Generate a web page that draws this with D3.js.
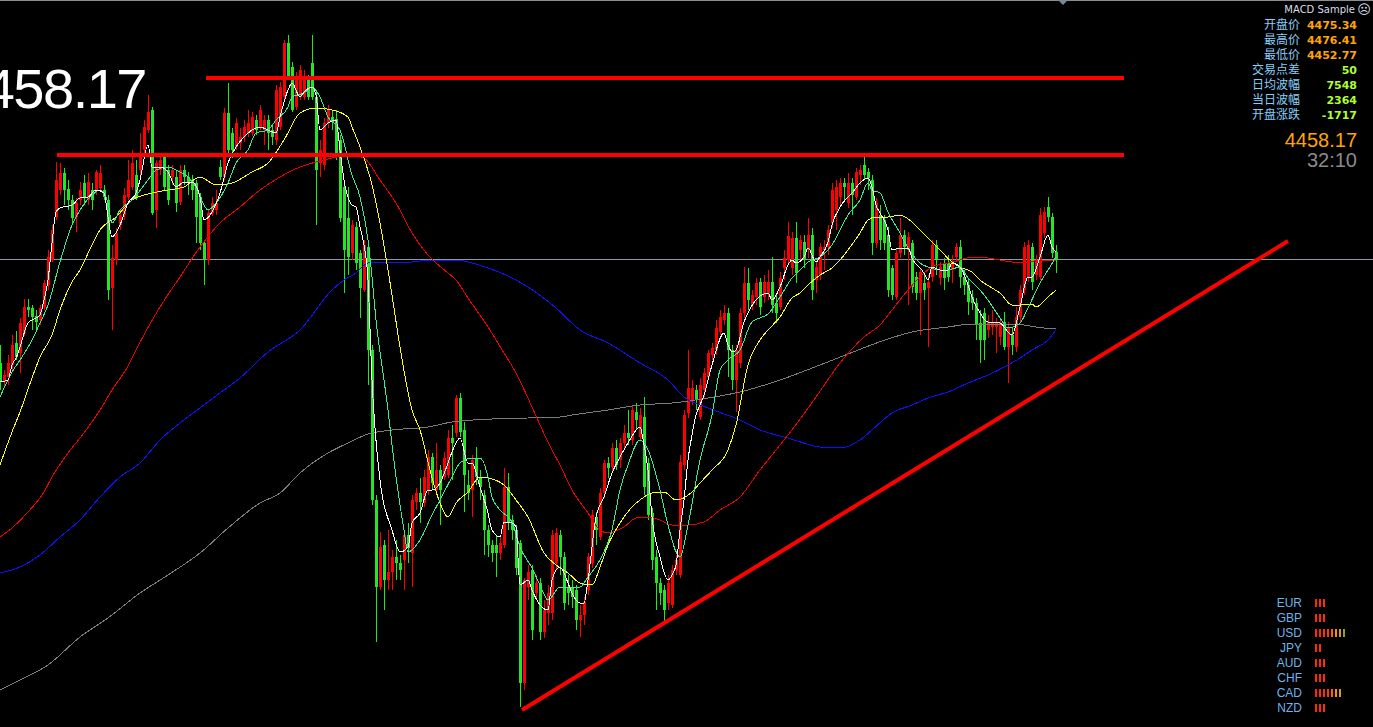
<!DOCTYPE html>
<html>
<head>
<meta charset="utf-8">
<script src="https://cdn.jsdelivr.net/npm/d3@7"></script>
<style>
  html, body { margin: 0; padding: 0; background: #000; overflow: hidden; }
  svg { display: block; }
</style>
</head>
<body>
<svg id="chart" width="1373" height="727"></svg>
<script>
// candles, oldest first
var opens = [
  4437.4,4433.6,4434.6,4437.0,4441.4,4439.4,4443.4,4448.6,4448.4,4446.8,
  4446.0,4448.6,4453.0,4458.0,4466.6,4472.0,4475.4,4472.2,4470.0,4466.6,
  4470.0,4473.4,4470.0,4472.0,4472.0,4472.4,4472.0,4470.0,4452.4,4458.0,
  4465.0,4467.0,4470.6,4472.6,4475.0,4476.0,4480.0,4484.0,4488.0,4468.0,
  4476.0,4478.6,4476.0,4474.6,4474.6,4469.6,4476.0,4474.6,4474.0,4473.4,
  4470.6,4461.4,4458.0,4467.4,4468.0,4476.6,4474.6,4487.4,4483.4,4480.6,
  4481.4,4482.6,4483.4,4483.4,4486.0,4484.6,4484.0,4486.0,4484.0,4482.0,
  4484.6,4490.6,4501.4,4496.6,4488.6,4490.6,4490.6,4494.0,4497.4,4490.6,
  4477.4,4477.0,4485.4,4486.6,4486.2,4482.0,4472.6,4466.4,4459.4,4464.6,
  4459.4,4452.0,4460.6,4440.0,4410.0,4392.6,4401.0,4394.0,4395.6,4398.6,
  4397.4,4398.0,4403.0,4399.4,4409.6,4411.4,4409.4,4412.0,4418.6,4412.0,
  4416.0,4414.6,4415.0,4422.4,4423.4,4430.4,4424.0,4413.0,4412.0,4418.4,
  4414.6,4411.0,4404.0,4401.0,4401.0,4399.4,4401.0,4412.6,4406.0,4404.0,
  4401.4,4373.4,4392.6,4396.0,4391.4,4393.4,4383.6,4387.4,4387.4,4397.4,
  4403.0,4398.6,4392.4,4392.6,4392.0,4386.0,4387.0,4392.0,4397.4,4406.6,
  4402.6,4411.4,4417.4,4416.6,4420.4,4418.0,4421.4,4423.4,4422.0,4427.6,
  4422.6,4426.6,4417.4,4407.4,4398.6,4393.4,4392.0,4389.4,4389.0,4396.0,
  4395.0,4417.0,4427.4,4430.0,4432.0,4426.6,4432.0,4434.6,4439.0,4440.0,
  4443.6,4446.0,4447.4,4440.0,4434.0,4437.4,4447.4,4453.4,4449.0,4450.6,
  4453.6,4450.6,4451.4,4453.6,4449.4,4448.6,4456.4,4458.0,4456.4,4462.4,
  4460.0,4461.6,4460.0,4463.0,4454.0,4455.0,4460.0,4460.6,4465.4,4468.0,
  4470.6,4473.4,4469.4,4473.4,4470.6,4475.0,4477.0,4475.6,4474.0,4461.4,
  4467.0,4466.0,4463.0,4456.4,4450.6,4459.4,4463.0,4460.0,4461.4,4454.6,
  4451.4,4453.4,4452.4,4454.6,4461.0,4454.4,4457.4,4457.4,4456.0,4458.6,
  4460.6,4454.6,4453.0,4450.6,4449.4,4445.4,4447.4,4444.0,4444.6,4444.6,
  4442.6,4445.6,4440.6,4443.0,4440.6,4446.6,4452.0,4454.6,4460.6,4455.0,
  4454.6,4463.4,4468.6,4466.6,4459.6
];
var highs = [
  4441.0,4436.0,4439.0,4443.0,4443.8,4446.4,4450.2,4450.2,4449.0,4448.0,
  4449.0,4454.0,4460.0,4465.0,4477.6,4477.4,4476.4,4474.0,4471.0,4470.4,
  4473.6,4475.0,4475.4,4473.4,4476.0,4477.0,4473.0,4471.0,4461.0,4464.4,
  4468.0,4472.4,4478.0,4480.0,4478.0,4483.4,4486.0,4491.0,4488.6,4478.0,
  4479.0,4479.0,4477.0,4477.0,4476.0,4477.0,4477.0,4475.6,4475.0,4474.0,
  4471.4,4462.0,4468.0,4470.6,4472.0,4478.0,4488.4,4493.4,4484.4,4486.4,
  4484.4,4486.0,4488.0,4487.6,4487.0,4489.0,4487.0,4487.0,4485.0,4493.0,
  4493.6,4502.0,4503.0,4497.6,4495.6,4497.0,4496.0,4495.0,4503.0,4492.0,
  4482.0,4486.4,4489.0,4488.0,4488.0,4483.0,4473.0,4472.6,4466.0,4465.6,
  4460.0,4462.0,4461.0,4441.0,4411.0,4403.6,4402.0,4404.0,4400.0,4402.0,
  4399.0,4404.0,4405.4,4411.0,4412.4,4414.4,4416.0,4420.0,4419.4,4421.4,
  4417.0,4419.6,4424.0,4425.0,4431.0,4431.4,4425.6,4416.0,4419.0,4420.6,
  4416.0,4412.0,4405.0,4402.0,4403.0,4403.0,4416.4,4415.4,4407.0,4405.0,
  4402.0,4394.4,4397.0,4397.0,4395.0,4394.4,4390.0,4393.0,4404.0,4404.4,
  4404.0,4399.6,4395.0,4394.0,4393.0,4389.0,4390.6,4399.4,4408.0,4407.6,
  4412.4,4418.0,4418.6,4421.4,4422.0,4422.4,4425.0,4428.0,4429.0,4429.4,
  4428.4,4430.6,4418.4,4408.4,4400.0,4394.4,4393.0,4395.0,4397.0,4399.0,
  4419.0,4428.0,4440.0,4434.0,4433.0,4434.4,4436.4,4440.0,4441.4,4446.0,
  4448.0,4449.0,4448.4,4441.0,4441.0,4448.4,4456.6,4456.4,4452.0,4454.4,
  4454.4,4455.0,4456.0,4458.6,4451.4,4455.6,4460.0,4465.6,4463.6,4465.6,
  4463.0,4463.0,4466.4,4464.4,4457.6,4461.4,4462.0,4465.0,4473.4,4474.0,
  4474.4,4474.4,4475.4,4474.4,4476.4,4477.0,4478.6,4476.4,4475.0,4470.4,
  4469.0,4467.0,4464.6,4457.0,4460.4,4466.4,4464.0,4463.6,4462.0,4455.6,
  4456.4,4455.0,4455.0,4462.0,4462.0,4457.6,4458.4,4459.0,4459.0,4461.4,
  4462.0,4456.0,4454.4,4452.0,4450.4,4448.0,4448.4,4447.0,4448.0,4446.4,
  4446.4,4447.6,4445.6,4444.6,4448.6,4453.0,4461.6,4462.0,4461.4,4459.0,
  4468.4,4468.6,4470.6,4467.4,4461.0
];
var lows = [
  4432.0,4432.6,4433.0,4436.0,4438.0,4435.4,4442.8,4446.6,4444.0,4443.6,
  4445.0,4448.0,4452.0,4457.6,4466.0,4471.0,4469.0,4468.0,4465.0,4463.6,
  4469.0,4469.0,4469.0,4468.0,4471.0,4471.6,4470.0,4450.0,4444.0,4457.0,
  4464.0,4466.0,4470.0,4472.0,4470.0,4475.0,4479.0,4483.4,4467.0,4464.4,
  4475.0,4472.0,4469.0,4473.0,4467.6,4469.0,4473.0,4471.0,4470.0,4461.4,
  4460.0,4453.0,4457.0,4466.8,4467.0,4474.0,4474.0,4479.0,4478.4,4480.0,
  4480.0,4481.6,4482.6,4482.8,4483.0,4484.0,4481.0,4480.0,4481.0,4481.0,
  4484.0,4490.0,4494.0,4487.6,4488.0,4490.0,4490.0,4490.0,4490.0,4465.0,
  4474.6,4476.0,4484.4,4484.0,4478.0,4465.6,4451.4,4455.0,4458.0,4456.0,
  4446.4,4451.6,4433.0,4409.0,4381.6,4392.0,4388.0,4392.0,4392.0,4394.0,
  4394.0,4392.0,4397.4,4392.6,4408.0,4405.4,4408.6,4411.0,4412.0,4411.0,
  4405.0,4414.0,4414.4,4414.0,4422.6,4422.6,4407.6,4410.0,4406.6,4413.0,
  4410.0,4399.0,4398.6,4397.6,4394.6,4398.0,4400.4,4404.0,4402.0,4395.0,
  4368.6,4372.0,4390.0,4382.0,4390.0,4382.0,4382.4,4385.0,4386.0,4396.0,
  4395.0,4388.0,4389.0,4388.4,4384.0,4382.6,4385.0,4391.0,4396.4,4401.0,
  4402.0,4410.4,4414.4,4415.6,4416.0,4416.4,4420.0,4421.0,4421.0,4424.0,
  4422.0,4411.0,4406.0,4396.0,4388.0,4389.0,4385.6,4388.0,4388.4,4395.0,
  4394.4,4416.0,4426.4,4429.0,4428.0,4426.0,4430.6,4434.0,4438.0,4439.0,
  4443.0,4445.0,4434.6,4432.0,4427.6,4436.4,4446.4,4448.0,4448.0,4449.0,
  4447.0,4449.4,4450.0,4447.4,4445.4,4448.0,4454.0,4457.0,4455.0,4453.4,
  4457.6,4456.4,4458.4,4450.0,4451.4,4454.0,4456.0,4459.0,4464.4,4464.0,
  4469.0,4470.0,4468.4,4467.0,4470.0,4473.0,4474.0,4472.0,4459.0,4460.4,
  4460.0,4460.0,4450.6,4450.0,4450.0,4458.4,4459.0,4449.0,4451.4,4450.0,
  4443.0,4450.0,4440.6,4453.6,4455.0,4453.0,4452.0,4453.6,4453.4,4457.6,
  4452.4,4451.0,4447.0,4448.0,4442.0,4437.4,4438.0,4442.4,4443.0,4439.4,
  4441.0,4440.0,4433.4,4439.0,4439.6,4445.6,4451.0,4453.6,4452.0,4454.0,
  4454.0,4462.4,4465.6,4458.4,4455.4
];
var closes = [
  4433.6,4435.0,4437.4,4441.0,4438.6,4445.4,4448.6,4448.0,4446.6,4445.6,
  4448.4,4453.4,4458.6,4464.0,4474.0,4475.4,4472.0,4470.0,4466.4,4469.4,
  4472.0,4470.6,4473.6,4470.0,4475.6,4475.4,4470.6,4452.0,4458.4,4463.4,
  4467.0,4471.0,4474.0,4477.4,4470.6,4478.6,4484.6,4487.6,4467.4,4477.4,
  4478.0,4472.6,4470.0,4476.0,4469.4,4476.0,4474.6,4473.4,4472.0,4466.6,
  4461.4,4458.0,4467.4,4469.4,4469.4,4474.6,4487.4,4480.0,4480.0,4485.4,
  4482.6,4484.6,4485.4,4486.6,4484.0,4488.0,4486.0,4483.4,4482.6,4492.0,
  4492.6,4501.4,4494.6,4488.0,4494.6,4496.0,4494.6,4490.6,4490.6,4476.0,
  4480.0,4485.4,4488.0,4485.6,4479.4,4466.4,4460.0,4458.6,4465.0,4457.4,
  4452.4,4461.0,4440.0,4410.0,4392.6,4400.6,4394.0,4395.6,4398.6,4397.4,
  4396.0,4403.0,4400.4,4410.0,4411.4,4409.6,4414.6,4418.6,4413.4,4416.0,
  4412.0,4418.4,4422.4,4421.4,4430.4,4423.6,4415.0,4411.4,4418.0,4414.6,
  4412.6,4404.0,4401.0,4399.4,4399.4,4401.4,4412.6,4405.4,4404.0,4396.4,
  4373.4,4394.0,4395.6,4384.0,4393.4,4383.6,4388.0,4391.4,4403.0,4403.4,
  4398.6,4389.4,4391.4,4390.6,4386.0,4387.0,4389.6,4398.6,4407.0,4404.0,
  4411.4,4417.4,4416.4,4420.4,4417.0,4421.4,4423.4,4422.4,4428.0,4426.0,
  4427.0,4412.6,4407.0,4398.0,4393.4,4391.4,4388.0,4393.4,4396.0,4398.0,
  4417.6,4427.0,4432.4,4432.4,4430.0,4433.0,4435.4,4439.4,4440.4,4444.4,
  4446.6,4447.4,4440.0,4434.0,4440.0,4447.4,4453.4,4450.0,4451.0,4453.4,
  4448.6,4453.6,4453.6,4449.0,4447.4,4454.4,4458.4,4462.8,4462.4,4455.4,
  4462.0,4458.0,4463.0,4452.0,4456.6,4460.6,4460.6,4464.0,4472.0,4472.6,
  4473.4,4472.6,4473.4,4471.0,4475.6,4476.0,4475.0,4474.4,4461.4,4469.4,
  4462.0,4461.4,4452.0,4451.0,4459.4,4463.0,4460.6,4462.6,4452.6,4451.4,
  4455.6,4452.0,4453.6,4461.0,4458.0,4456.6,4454.4,4454.6,4457.6,4460.6,
  4454.6,4453.0,4449.6,4449.4,4445.0,4442.0,4442.0,4445.6,4445.6,4445.6,
  4445.4,4440.6,4444.4,4441.0,4446.6,4452.0,4460.6,4461.0,4453.6,4458.0,
  4467.0,4467.6,4466.6,4459.4,4458.17
];

// moving averages: [candle index, price]
var maWhite = [[0,4433.6],[2,4434.0],[3,4437.0],[4,4438.4],[5,4440.6],[7,4445.4],[9,4446.4],[10,4447.0],[11,4450.0],[12,4454.0],[13,4461.4],[14,4467.6],[15,4468.4],[18,4469.0],[20,4470.4],[22,4470.6],[24,4472.0],[26,4471.4],[27,4466.6],[28,4462.6],[30,4465.0],[32,4469.4],[34,4471.4],[35,4474.0],[37,4481.0],[38,4476.6],[40,4476.6],[42,4475.6],[44,4472.6],[46,4473.6],[48,4473.6],[50,4470.6],[51,4466.0],[53,4467.6],[55,4471.4],[57,4477.4],[59,4480.6],[61,4482.6],[63,4484.0],[65,4484.6],[67,4484.0],[69,4483.4],[70,4486.6],[72,4492.0],[73,4493.4],[75,4490.6],[76,4491.6],[78,4492.6],[79,4491.0],[80,4484.0],[82,4485.4],[84,4486.0],[85,4480.0],[86,4474.0],[88,4469.0],[89,4468.6],[90,4464.6],[91,4461.0],[92,4454.0],[93,4434.0],[95,4414.0],[98,4404.0],[100,4399.6],[102,4400.6],[103,4405.4],[105,4407.4],[107,4412.0],[108,4412.0],[110,4413.4],[112,4417.4],[113,4419.6],[115,4422.4],[117,4417.4],[118,4417.4],[120,4412.6],[122,4407.4],[123,4404.0],[125,4402.6],[126,4405.6],[128,4405.4],[129,4404.6],[130,4393.0],[132,4394.0],[133,4392.0],[135,4389.0],[137,4388.0],[138,4394.0],[140,4396.6],[142,4393.4],[143,4391.4],[145,4389.4],[146,4389.4],[147,4394.0],[149,4406.6],[151,4410.6],[153,4415.4],[155,4418.6],[157,4421.4],[160,4424.6],[161,4421.0],[162,4416.0],[163,4406.6],[165,4398.6],[167,4394.0],[168,4395.0],[169,4397.0],[170,4404.0],[171,4410.0],[172,4418.0],[173,4423.0],[174,4427.0],[175,4429.0],[176,4431.0],[178,4437.0],[181,4443.4],[182,4441.0],[183,4439.6],[184,4440.0],[186,4445.6],[187,4447.4],[189,4450.0],[192,4451.4],[193,4450.0],[195,4452.6],[197,4457.0],[198,4458.0],[199,4457.4],[201,4458.6],[202,4460.4],[204,4457.6],[205,4458.6],[207,4461.6],[208,4465.0],[210,4468.6],[212,4470.6],[213,4471.4],[215,4473.4],[217,4474.4],[218,4472.6],[219,4469.0],[220,4467.4],[222,4464.0],[223,4460.0],[225,4460.4],[227,4460.4],[228,4458.4],[231,4455.4],[232,4454.0],[233,4456.6],[235,4456.0],[237,4456.0],[238,4457.4],[240,4456.6],[242,4453.0],[243,4450.6],[245,4447.4],[247,4445.6],[248,4445.6],[250,4445.4],[252,4443.6],[253,4443.0],[255,4448.6],[257,4454.6],[258,4454.6],[260,4458.6],[262,4463.0],[263,4460.6],[264,4459.6]];
var maMint = [[0,4430.6],[3,4435.6],[5,4438.0],[8,4442.0],[10,4445.4],[12,4449.0],[15,4457.6],[18,4465.0],[20,4468.0],[23,4471.0],[25,4472.0],[27,4469.4],[28,4465.4],[30,4468.0],[33,4470.0],[37,4474.0],[39,4476.0],[42,4476.6],[44,4476.0],[47,4474.6],[49,4472.6],[52,4468.0],[54,4469.4],[57,4473.4],[59,4477.4],[62,4480.0],[64,4483.4],[67,4484.0],[69,4486.0],[72,4488.6],[73,4490.6],[76,4491.4],[78,4492.6],[80,4490.6],[82,4486.6],[85,4484.0],[88,4475.0],[90,4470.6],[92,4462.0],[93,4454.6],[94,4446.0],[96,4434.0],[97,4428.0],[98,4421.0],[101,4404.0],[102,4399.6],[105,4402.0],[108,4407.0],[110,4410.0],[113,4414.6],[115,4417.4],[118,4418.4],[120,4418.4],[122,4414.6],[123,4410.6],[125,4408.0],[128,4405.6],[130,4400.6],[133,4396.4],[135,4393.0],[137,4390.0],[140,4392.6],[142,4392.6],[145,4392.6],[147,4394.6],[150,4398.0],[153,4404.0],[155,4412.0],[157,4417.0],[160,4422.0],[162,4420.0],[165,4412.0],[167,4405.0],[170,4398.6],[172,4405.0],[175,4418.0],[178,4427.0],[180,4436.0],[182,4438.0],[185,4440.0],[188,4445.6],[190,4446.4],[192,4447.2],[195,4450.6],[198,4454.4],[200,4456.0],[202,4457.6],[205,4458.6],[208,4461.0],[210,4464.0],[212,4467.0],[215,4470.0],[217,4473.4],[218,4472.0],[220,4471.4],[222,4467.6],[225,4463.4],[227,4460.4],[230,4457.4],[232,4456.6],[235,4456.0],[237,4456.0],[240,4456.6],[242,4454.4],[245,4452.0],[247,4450.0],[250,4446.4],[252,4444.4],[255,4445.4],[257,4448.4],[260,4453.4],[262,4456.0],[264,4458.6]];
var maYellow = [[0,4417.0],[3,4423.6],[5,4427.6],[8,4434.4],[10,4438.6],[13,4443.0],[15,4448.0],[18,4453.6],[20,4456.0],[23,4461.0],[25,4464.0],[29,4466.6],[33,4470.0],[37,4471.2],[42,4472.0],[46,4472.6],[50,4474.6],[54,4473.0],[58,4473.4],[63,4475.6],[67,4477.4],[71,4482.0],[75,4487.4],[79,4488.4],[83,4488.0],[87,4486.6],[88,4484.6],[90,4480.6],[93,4473.0],[95,4465.4],[98,4451.0],[100,4440.6],[103,4428.0],[105,4424.0],[108,4414.4],[110,4409.4],[112,4406.6],[114,4409.4],[117,4411.6],[120,4414.6],[122,4414.4],[126,4413.0],[129,4410.0],[132,4406.6],[136,4399.4],[139,4397.0],[142,4395.4],[145,4393.4],[148,4393.0],[150,4396.6],[152,4401.0],[155,4405.4],[158,4408.6],[160,4410.0],[163,4411.4],[166,4411.6],[169,4410.0],[173,4411.6],[175,4413.4],[178,4416.0],[182,4420.0],[184,4425.0],[187,4437.0],[190,4442.0],[192,4444.0],[195,4446.6],[198,4450.4],[200,4451.4],[202,4453.0],[205,4455.0],[208,4456.4],[210,4458.0],[212,4460.0],[215,4463.4],[217,4466.0],[219,4466.6],[222,4466.6],[225,4467.0],[228,4465.6],[230,4464.0],[233,4461.6],[235,4460.0],[238,4457.6],[240,4456.6],[243,4455.6],[245,4454.0],[248,4452.4],[250,4451.4],[253,4449.0],[255,4449.0],[258,4449.2],[259,4448.6],[262,4450.6],[264,4452.0]];
var maRed = [[0,4402.6],[3,4404.4],[7,4407.6],[11,4411.6],[13,4414.6],[17,4419.4],[21,4423.4],[25,4428.0],[28,4432.0],[32,4436.8],[34,4440.0],[40,4448.6],[45,4454.6],[50,4460.6],[55,4465.4],[60,4468.6],[65,4472.0],[70,4474.6],[75,4476.6],[79,4477.6],[83,4478.4],[88,4479.0],[91,4478.4],[95,4474.0],[99,4469.4],[103,4463.4],[107,4459.0],[112,4455.4],[114,4454.0],[117,4450.4],[122,4444.6],[126,4439.4],[129,4435.4],[133,4428.6],[135,4425.0],[138,4420.0],[140,4417.0],[143,4412.0],[147,4407.4],[150,4404.0],[152,4403.4],[156,4404.6],[159,4406.4],[162,4406.6],[165,4406.0],[168,4405.0],[172,4405.0],[176,4405.6],[180,4408.0],[185,4410.6],[190,4416.0],[194,4420.0],[198,4424.0],[204,4430.6],[210,4437.4],[216,4442.6],[220,4445.0],[223,4448.0],[227,4452.0],[230,4454.6],[233,4456.6],[237,4457.4],[240,4458.0],[243,4458.6],[247,4458.4],[250,4458.0],[253,4457.6],[257,4457.6],[260,4458.0],[264,4458.0]];
var maBlue = [[0,4395.4],[5,4396.6],[10,4399.0],[15,4402.6],[20,4406.0],[25,4410.6],[30,4414.6],[35,4417.4],[40,4422.0],[45,4425.4],[50,4428.4],[55,4431.4],[60,4434.4],[67,4439.6],[75,4444.0],[83,4452.0],[86,4454.0],[89,4455.4],[92,4457.4],[96,4457.6],[103,4457.6],[107,4458.0],[114,4458.0],[118,4457.4],[122,4456.4],[127,4454.8],[132,4452.6],[139,4448.4],[145,4444.0],[152,4441.4],[160,4437.4],[167,4434.0],[171,4430.6],[177,4428.4],[185,4426.0],[190,4424.0],[197,4422.4],[205,4420.6],[210,4420.4],[215,4422.0],[218,4424.0],[223,4427.4],[228,4429.0],[232,4430.4],[237,4431.6],[242,4433.4],[247,4435.0],[252,4437.0],[255,4438.4],[258,4440.0],[262,4442.0],[264,4444.0]];
var maGray = [[0,4372.0],[5,4374.0],[12,4377.0],[20,4382.6],[27,4386.4],[35,4391.4],[42,4395.0],[50,4399.4],[57,4404.4],[65,4409.4],[70,4411.4],[75,4415.4],[82,4419.4],[87,4421.4],[92,4423.2],[98,4424.0],[107,4424.6],[113,4425.6],[123,4426.2],[132,4426.4],[140,4426.6],[143,4427.0],[152,4428.0],[160,4429.0],[168,4429.4],[177,4430.4],[185,4431.6],[195,4434.0],[205,4437.0],[212,4439.2],[222,4442.2],[228,4443.6],[237,4444.6],[243,4445.2],[250,4445.2],[256,4445.0],[261,4444.4],[264,4444.4]];

// hand drawn levels: price, first candle index; all run to index 281
var levelPrices = [4494.4, 4479.0];
var levelStarts = [51.5, 14.25];
var levelEnd = 281;
// rising support line, [candle index, price]
var supportFrom = [130.5, 4368.0];
var supportTo = [322, 4461.8];

var lastPrice = 4458.17;
var barTimer = '32:10';
var infoLabels = ['开盘价', '最高价', '最低价', '交易点差', '日均波幅', '当日波幅', '开盘涨跌'];
var infoValues = ['4475.34', '4476.41', '4452.77', '50', '7548', '2364', '-1717'];
var currencies = ['EUR', 'GBP', 'USD', 'JPY', 'AUD', 'CHF', 'CAD', 'NZD'];
var strength = [3, 3, 8, 2, 3, 3, 7, 3];

var W = 1373, H = 727;
var UP = '#ff0000', DOWN = '#22e822';

var x = d3.scaleLinear().domain([0, 264]).range([0, 1056]);
var y = d3.scaleLinear().domain([4364.6, 4510]).range([H, 0]);

var svg = d3.select('#chart');
svg.append('rect').attr('width', W).attr('height', H).attr('fill', '#000');

// current bid line sits behind the candles
svg.append('line')
  .attr('x1', 0).attr('x2', W)
  .attr('y1', Math.round(y(lastPrice)) + 0.5).attr('y2', Math.round(y(lastPrice)) + 0.5)
  .attr('stroke', '#8c99a6').attr('stroke-width', 1);

var candles = d3.range(closes.length).map(function (i) {
  return { i: i, o: opens[i], h: highs[i], l: lows[i], c: closes[i] };
});

var cg = svg.append('g').attr('shape-rendering', 'crispEdges');

cg.selectAll('rect.wick').data(candles).enter().append('rect')
  .attr('class', 'wick')
  .attr('x', function (d) { return Math.round(x(d.i)); })
  .attr('y', function (d) { return Math.round(y(d.h)); })
  .attr('width', 1)
  .attr('height', function (d) { return Math.max(1, Math.round(y(d.l)) - Math.round(y(d.h))); })
  .attr('fill', function (d) { return d.c >= d.o ? UP : DOWN; });

cg.selectAll('rect.body').data(candles).enter().append('rect')
  .attr('class', 'body')
  .attr('x', function (d) { return Math.round(x(d.i)) - 1; })
  .attr('y', function (d) { return Math.round(y(Math.max(d.o, d.c))); })
  .attr('width', 3)
  .attr('height', function (d) {
    return Math.max(1, Math.round(y(Math.min(d.o, d.c))) - Math.round(y(Math.max(d.o, d.c))));
  })
  .attr('fill', function (d) { return d.c >= d.o ? UP : DOWN; });

// moving averages, slowest first so the fast ones end on top
var line = d3.line()
  .x(function (d) { return x(d[0]); })
  .y(function (d) { return y(d[1]); })
  .curve(d3.curveMonotoneX);

var maSeries = [
  { pts: maGray, color: '#7c7c7c' },
  { pts: maBlue, color: '#1010ff' },
  { pts: maRed, color: '#ee0000' },
  { pts: maYellow, color: '#ffff00' },
  { pts: maMint, color: '#33ee99' },
  { pts: maWhite, color: '#ffffff' }
];

svg.append('g').selectAll('path').data(maSeries).enter().append('path')
  .attr('d', function (d) { return line(d.pts); })
  .attr('fill', 'none')
  .attr('stroke', function (d) { return d.color; })
  .attr('stroke-width', 1)
  .attr('shape-rendering', 'crispEdges');

// trend lines drawn by hand on the chart
var tg = svg.append('g');
tg.selectAll('line.level').data(levelPrices).enter().append('line')
  .attr('class', 'level')
  .attr('x1', function (d, i) { return x(levelStarts[i]); })
  .attr('x2', x(levelEnd))
  .attr('y1', function (d) { return y(d); })
  .attr('y2', function (d) { return y(d); })
  .attr('stroke', '#ff0000').attr('stroke-width', 4);

tg.append('line')
  .attr('x1', x(supportFrom[0])).attr('y1', y(supportFrom[1]))
  .attr('x2', x(supportTo[0])).attr('y2', y(supportTo[1]))
  .attr('stroke', '#ff0000').attr('stroke-width', 4);

// chart shift marker + top frame
svg.append('line').attr('x1', 0).attr('x2', W).attr('y1', 0.5).attr('y2', 0.5)
  .attr('stroke', '#8a8f96').attr('stroke-width', 1);
var sx = x(264) + 7;
svg.append('path')
  .attr('d', 'M' + (sx - 5) + ',0 L' + (sx + 5) + ',0 L' + sx + ',5 Z')
  .attr('fill', '#7b8794');

// big price at top left (its first digit runs off the edge, as on the chart)
svg.append('text')
  .attr('x', 146).attr('y', 108)
  .attr('text-anchor', 'end')
  .attr('fill', '#ffffff')
  .style('font-family', '"Liberation Sans", Arial, sans-serif')
  .style('font-size', '56px')
  .style('letter-spacing', '-1.5px')
  .text(lastPrice.toFixed(2));

// info panel, top right
svg.append('text')
  .attr('x', 1355).attr('y', 13)
  .attr('text-anchor', 'end')
  .attr('fill', '#d6deea')
  .style('font-family', '"DejaVu Sans", sans-serif')
  .style('font-size', '10px')
  .text('MACD Sample');
svg.append('text')
  .attr('x', 1364).attr('y', 14)
  .attr('text-anchor', 'middle')
  .attr('fill', '#d6deea')
  .style('font-family', '"DejaVu Sans", sans-serif')
  .style('font-size', '13px')
  .text('\u2639');

var info = svg.append('g');
info.selectAll('text.lbl').data(infoLabels).enter().append('text')
  .attr('class', 'lbl')
  .attr('x', 1300)
  .attr('y', function (d, i) { return 28.5 + i * 15; })
  .attr('text-anchor', 'end')
  .attr('fill', '#87cefa')
  .style('font-family', '"Noto Sans CJK SC", sans-serif')
  .style('font-size', '12px')
  .text(function (d) { return d; });

info.selectAll('text.val').data(infoValues).enter().append('text')
  .attr('class', 'val')
  .attr('x', 1357)
  .attr('y', function (d, i) { return 28.5 + i * 15; })
  .attr('text-anchor', 'end')
  .attr('fill', function (d, i) { return i < 3 ? '#ffa500' : '#adff2f'; })
  .style('font-family', '"DejaVu Sans", sans-serif')
  .style('font-weight', 'bold')
  .style('font-size', '11px')
  .text(function (d) { return d; });

svg.append('text')
  .attr('x', 1357).attr('y', 147)
  .attr('text-anchor', 'end')
  .attr('fill', '#ffa500')
  .style('font-family', '"Liberation Sans", Arial, sans-serif')
  .style('font-size', '20px')
  .text(lastPrice.toFixed(2));
svg.append('text')
  .attr('x', 1357).attr('y', 167)
  .attr('text-anchor', 'end')
  .attr('fill', '#8a8a8a')
  .style('font-family', '"Liberation Sans", Arial, sans-serif')
  .style('font-size', '20px')
  .text(barTimer);

// currency strength meter, bottom right
var barColors = ['#ff2a00', '#ff2a00', '#ff3000', '#ff3800', '#ff6000', '#ff9000', '#dca000', '#98a000'];
var meter = svg.append('g').attr('shape-rendering', 'crispEdges');
var rows = meter.selectAll('g').data(currencies).enter().append('g')
  .attr('transform', function (d, i) { return 'translate(0,' + (607 + i * 15) + ')'; });

rows.append('text')
  .attr('x', 1302)
  .attr('text-anchor', 'end')
  .attr('fill', '#6cb4e8')
  .style('font-family', '"Liberation Sans", Arial, sans-serif')
  .style('font-size', '12px')
  .text(function (d) { return d; });

rows.each(function (d, i) {
  d3.select(this).selectAll('rect').data(d3.range(strength[i])).enter().append('rect')
    .attr('x', function (k) { return 1315 + k * 4; })
    .attr('y', -8)
    .attr('width', 2)
    .attr('height', 8)
    .attr('fill', function (k) { return barColors[k]; });
});
</script>
</body>
</html>
